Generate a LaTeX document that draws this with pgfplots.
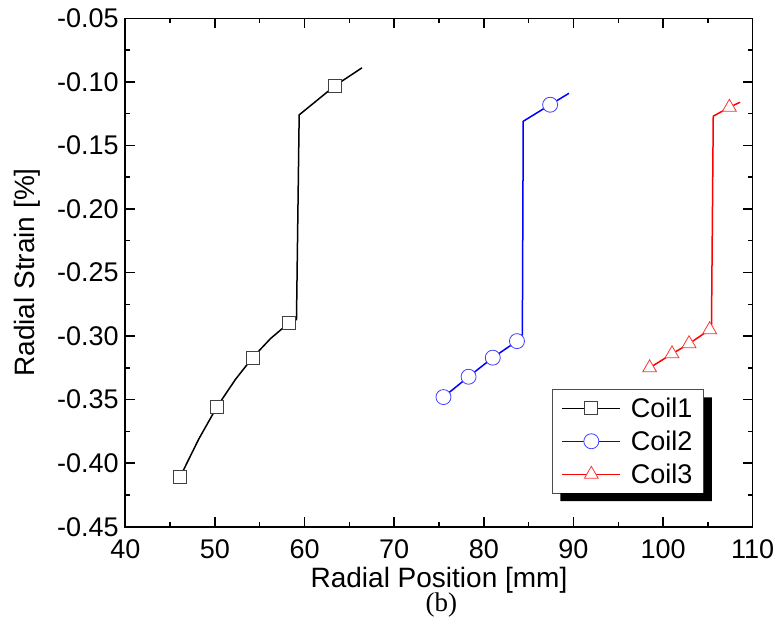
\documentclass[border=0pt]{standalone}
\usepackage{fontspec}
\setmainfont{Liberation Sans}
\newfontfamily\seriffont{Liberation Serif}
\usepackage{pgfplots}
\pgfplotsset{compat=1.18}
\definecolor{cblue}{RGB}{0,0,255}
\definecolor{cred}{RGB}{255,0,0}
\begin{document}
\begin{tikzpicture}
\begin{axis}[
  scale only axis,
  width=627.4pt, height=508.4pt,
  xmin=40, xmax=110, ymin=-0.45, ymax=-0.05,
  xtick={40,50,...,110},
  ytick={-0.45,-0.40,...,-0.05},
  minor x tick num=1, minor y tick num=1,
  tick align=inside,
  major tick length=10pt, minor tick length=5pt,
  axis line style={line width=1.6pt},
  every tick/.style={line width=1.4pt, black},
  tick label style={font=\fontsize{27}{27}\selectfont},
  /pgf/number format/assume math mode=true,
  yticklabel style={xshift=-3pt, /pgf/number format/fixed, /pgf/number format/fixed zerofill, /pgf/number format/precision=2},
  xticklabel style={yshift=-9pt},
  xlabel={Radial Position [mm]},
  ylabel={Radial Strain [\%]},
  label style={font=\fontsize{28}{28}\selectfont},
  xlabel style={yshift=-2pt},
  ylabel style={yshift=10pt},
  legend style={name=leg, at={(0.922,0.066)}, anchor=south east, draw=black!70, line width=0.6pt, fill=white,
    inner xsep=9pt, inner ysep=6pt, row sep=8pt,
    /tikz/every odd column/.append style={column sep=8pt}},
  legend cell align=left,
  legend image code/.code={\draw[mark repeat=2,mark phase=2,#1] plot coordinates {(0pt,0pt) (29pt,0pt) (58pt,0pt)};},
]
% Coil1 line
\addplot[black, line width=1.5pt, forget plot] coordinates {
(46.1,-0.411) (48.2,-0.381) (50.2,-0.356) (52.3,-0.334) (54.2,-0.317) (56.2,-0.302) (58.2,-0.290) (59.1,-0.287) (59.4,-0.126) (63.4,-0.103) (66.4,-0.089)};
\addplot[only marks, mark=square*, mark size=6.5pt, mark options={draw=black!75, fill=white, line width=0.8pt}, forget plot] coordinates {
(46.1,-0.411) (50.2,-0.356) (54.2,-0.317) (58.2,-0.290) (63.4,-0.103)};
% Coil2 line
\addplot[cblue, line width=1.5pt, forget plot] coordinates {
(75.5,-0.348) (78.3,-0.332) (81.0,-0.317) (83.7,-0.304) (84.3,-0.299) (84.4,-0.131) (87.4,-0.118) (89.5,-0.109)};
\addplot[only marks, mark=*, mark size=7.5pt, mark options={draw=cblue!75, fill=white, line width=0.8pt}, forget plot] coordinates {
(75.5,-0.348) (78.3,-0.332) (81.0,-0.317) (83.7,-0.304) (87.4,-0.118)};
% Coil3 line
\addplot[cred, line width=1.5pt, forget plot] coordinates {
(98.5,-0.325) (101.0,-0.314) (102.9,-0.306) (105.2,-0.295) (105.4,-0.294) (105.6,-0.127) (107.4,-0.120) (108.6,-0.116)};
\addplot[only marks, mark=triangle*, mark size=8pt, mark options={draw=cred!80, fill=white, line width=0.8pt}, forget plot] coordinates {
(98.5,-0.325) (101.0,-0.314) (102.9,-0.306) (105.2,-0.295) (107.4,-0.120)};
\addlegendimage{black, line width=1.2pt, mark=square*, mark size=6.5pt, mark options={draw=black!75, fill=white, line width=0.8pt}}
\addlegendentry{\fontsize{27}{27}\selectfont Coil1}
\addlegendimage{cblue, line width=1.2pt, mark=*, mark size=7.5pt, mark options={draw=cblue!75, fill=white, line width=0.8pt}}
\addlegendentry{\fontsize{27}{27}\selectfont Coil2}
\addlegendimage{cred, line width=1.2pt, mark=triangle*, mark size=8pt, mark options={draw=cred!80, fill=white, line width=0.8pt}}
\addlegendentry{\fontsize{27}{27}\selectfont Coil3}
\end{axis}
\fill[black] ([shift={(8pt,-8pt)}]leg.south west) -- ([shift={(8pt,-8pt)}]leg.south east) -- ([shift={(8pt,-8pt)}]leg.north east) -- ([shift={(0pt,-8pt)}]leg.north east) -- (leg.south east) -- ([shift={(8pt,0pt)}]leg.south west) -- cycle;
\node[font=\seriffont\fontsize{27}{27}\selectfont, inner sep=0pt] at (316pt,-78pt) {(b)};
\pgfresetboundingbox
\path[use as bounding box] (-125.3pt,-106.3pt) rectangle (652.7pt,526.7pt);
\end{tikzpicture}
\end{document}
